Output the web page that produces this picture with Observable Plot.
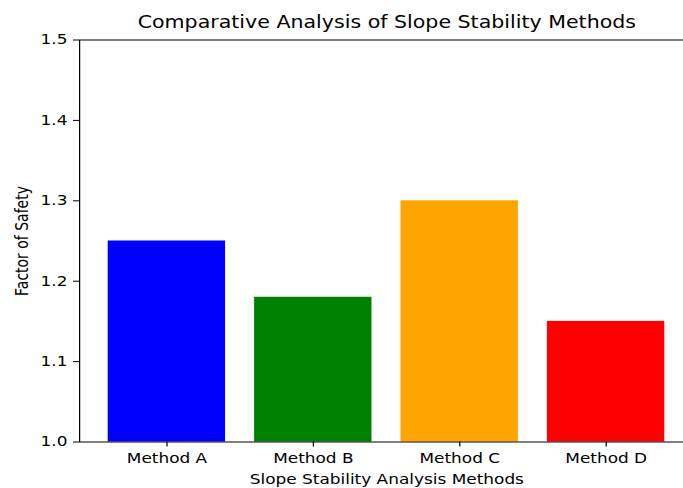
<!DOCTYPE html>
<html><head><meta charset="utf-8">
<script src="https://cdn.jsdelivr.net/npm/d3@7"></script>
<script src="https://cdn.jsdelivr.net/npm/@observablehq/plot@0.6"></script>
<style>
html,body{margin:0;padding:0;background:#fff;overflow:hidden}
#chart{width:564.5px;transform:scaleX(1.21);transform-origin:0 0}
</style></head><body><div id="chart"></div>
<script>
const methods = ["Method A", "Method B", "Method C", "Method D"];
const factors = [1.25, 1.18, 1.30, 1.15];
const colors = ["#0000ff", "#008000", "#ffa500", "#ff0000"];
const yTicks = [1.0, 1.1, 1.2, 1.3, 1.4, 1.5];
const title = "Comparative Analysis of Slope Stability Methods";
const xLabel = "Slope Stability Analysis Methods";
const yLabel = "Factor of Safety";

const data = methods.map((m, i) => ({method: m, value: factors[i]}));

const chart = Plot.plot({
  width: 564.5, height: 488,
  marginLeft: 65.3, marginRight: -8.6, marginTop: 39.5, marginBottom: 46.5,
  style: {fontFamily: "DejaVu Sans", fontSize: "14px", color: "black", background: "white", overflow: "hidden"},
  x: {domain: methods, paddingInner: 0.2, paddingOuter: 0.19, label: null},
  y: {domain: [1.0, 1.5], label: null},
  color: {domain: methods, range: colors},
  marks: [
    Plot.barY(data, {x: "method", y1: 1.0, y2: "value", fill: "method"}),
    Plot.axisY({ticks: yTicks, tickFormat: d3.format(".1f"), tickSize: 5, tickPadding: 5, fontSize: 14, label: null}),
    Plot.axisX({tickSize: 5, tickPadding: 6, fontSize: 14, label: null}),
    Plot.frame({stroke: "black", strokeWidth: 1}),
    Plot.text([title], {frameAnchor: "top", textAnchor: "middle", lineAnchor: "middle", dy: -17.5, fontSize: 17, fill: "black"}),
    Plot.text([xLabel], {frameAnchor: "bottom", textAnchor: "middle", lineAnchor: "middle", dy: 38, fontSize: 14, fill: "black"}),
    Plot.text([yLabel], {frameAnchor: "left", textAnchor: "middle", lineAnchor: "middle", dx: -47.3, rotate: -90, fontSize: 14, fill: "black"})
  ]
});
document.getElementById("chart").appendChild(chart);
</script>
</body></html>
